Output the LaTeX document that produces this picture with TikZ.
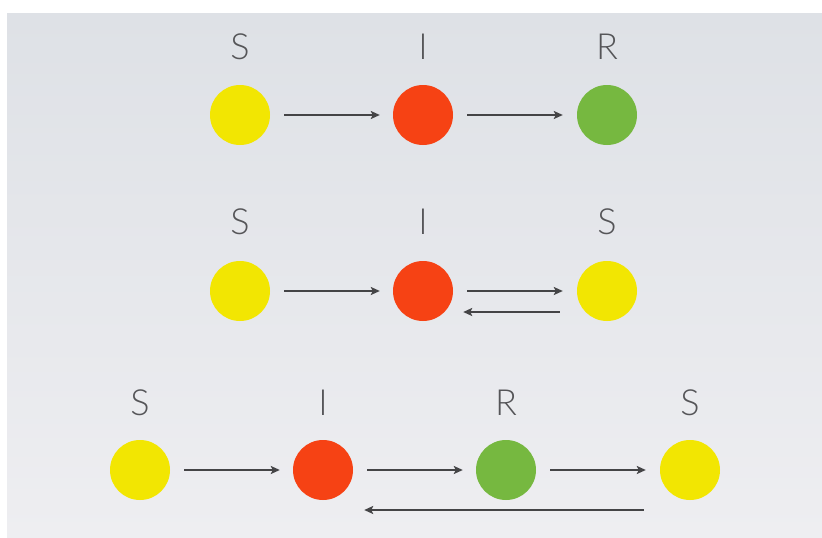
\documentclass[tikz,border=0pt]{standalone}
\usepackage{fontspec}
\setmainfont{Lato}[UprightFont=* Light]
\usetikzlibrary{arrows.meta}
\definecolor{susc}{RGB}{242,230,2}
\definecolor{infe}{RGB}{246,66,20}
\definecolor{reco}{RGB}{118,184,64}
\definecolor{arrowgrey}{RGB}{68,68,70}
\definecolor{labelgrey}{RGB}{85,85,88}
\definecolor{bgtop}{RGB}{222,225,230}
\definecolor{bgbottom}{RGB}{238,238,241}
\tikzset{
  state/.style={circle, minimum size=60pt, inner sep=0pt, fill=#1},
  lab/.style={text=labelgrey, font=\fontsize{36}{36}\selectfont, inner sep=0pt},
  flow/.style={draw=arrowgrey, line width=1.8pt, -{Stealth[length=9pt,width=8pt,inset=2pt]}},
}
\begin{document}
\begin{tikzpicture}[x=1pt,y=-1pt]
  % page and slide background
  \fill[white] (0,0) rectangle (822,538);
  \shade[top color=bgtop, bottom color=bgbottom] (7,13) rectangle (822,538);
  \useasboundingbox (0,0) rectangle (822,538);

  % SIR
  \node[state=susc] (a1) at (240,115) {};
  \node[state=infe] (a2) at (423,115) {};
  \node[state=reco] (a3) at (607,115) {};
  \node[lab] at (240,47) {S};
  \node[lab] at (423,47) {I};
  \node[lab] at (607,47) {R};
  \draw[flow, shorten <=14pt, shorten >=13pt] (a1) -- (a2);
  \draw[flow, shorten <=14pt, shorten >=14pt] (a2) -- (a3);

  % SIS
  \node[state=susc] (b1) at (240,291) {};
  \node[state=infe] (b2) at (423,291) {};
  \node[state=susc] (b3) at (607,291) {};
  \node[lab] at (240,222) {S};
  \node[lab] at (423,222) {I};
  \node[lab] at (607,222) {S};
  \draw[flow, shorten <=14pt, shorten >=13pt] (b1) -- (b2);
  \draw[flow, shorten <=14pt, shorten >=14pt] (b2) -- (b3);
  \draw[flow, shorten <=17pt, shorten >=10pt] ([yshift=-21pt]b3.west) -- ([yshift=-21pt]b2.east);

  % SIRS
  \node[state=susc] (c1) at (140,470) {};
  \node[state=infe] (c2) at (323,470) {};
  \node[state=reco] (c3) at (506,470) {};
  \node[state=susc] (c4) at (690,470) {};
  \node[lab] at (140,403) {S};
  \node[lab] at (323,403) {I};
  \node[lab] at (506,403) {R};
  \node[lab] at (690,403) {S};
  \draw[flow, shorten <=14pt, shorten >=13pt] (c1) -- (c2);
  \draw[flow, shorten <=14pt, shorten >=13pt] (c2) -- (c3);
  \draw[flow, shorten <=14pt, shorten >=14pt] (c3) -- (c4);
  \draw[flow, shorten <=16pt, shorten >=11pt] ([yshift=-40pt]c4.west) -- ([yshift=-40pt]c2.east);
\end{tikzpicture}
\end{document}
